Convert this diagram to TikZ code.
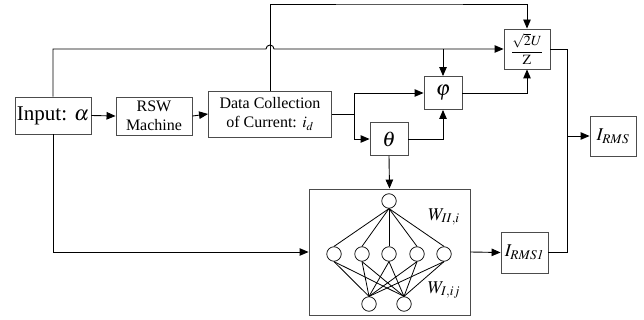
\documentclass[tikz,border=0pt]{standalone}
\usepackage{mathptmx}
\usepackage{fontspec}
\setmainfont{Liberation Serif}
\usepackage{tikz}
\usetikzlibrary{arrows.meta}

\begin{document}
\begin{tikzpicture}[
  x=1pt, y=-1pt,
  >={Triangle[length=9pt,width=7.5pt]},
  box/.style={draw=black!70, line width=0.9pt, inner sep=1pt, align=center},
  wire/.style={->, line width=0.9pt, color=black},
  link/.style={line width=0.8pt, color=black},
  neuron/.style={draw, line width=0.7pt, circle, minimum size=14.5pt, inner sep=0pt}
]
  \useasboundingbox (0,0) rectangle (644,320);

  % Main blocks
  \node[box, minimum width=76pt, minimum height=37pt, font=\fontsize{21}{23}\selectfont] (input) at (53,115.5) {Input: $\alpha$};
  \node[box, minimum width=76pt, minimum height=38pt, font=\fontsize{16}{19}\selectfont] (rsw) at (154,116) {RSW\\Machine};
  \node[box, minimum width=123pt, minimum height=46pt, font=\fontsize{16}{19}\selectfont] (data) at (270,114) {Data Collection\\of Current: $i_d$};
  \node[box, minimum width=46pt, minimum height=40pt, font=\fontsize{14}{16}\selectfont] (sqrtbox) at (527,49) {$\displaystyle\frac{\sqrt{2}U}{\mathrm{Z}}$};
  \node[box, minimum width=38pt, minimum height=33pt, font=\fontsize{21}{23}\selectfont] (phi) at (443,93) {$\varphi$};
  \node[box, minimum width=38pt, minimum height=33pt, font=\fontsize{21}{23}\selectfont] (theta) at (389,139) {$\theta$};
  \node[box, minimum width=161pt, minimum height=126pt] (nnbox) at (389.5,252) {};
  \node[box, minimum width=47pt, minimum height=41pt, font=\fontsize{18}{20}\selectfont] (irmsone) at (524.5,252.5) {$I_{RMS\mathit{1}}$};
  \node[box, minimum width=46pt, minimum height=40pt, font=\fontsize{18}{20}\selectfont] (irms) at (613,136) {$I_{RMS}$};

  % Neural network inside the box
  \node[neuron] (top) at (389,201) {};
  \foreach \i/\x in {1/334,2/362,3/389,4/417,5/444}
    \node[neuron] (h\i) at (\x,254) {};
  \node[neuron] (b1) at (369,304) {};
  \node[neuron] (b2) at (404,304) {};
  \foreach \i in {1,...,5} {
    \draw[link] (top.south) -- (h\i.north);
    \draw[link] (h\i.south) -- (b1.north);
    \draw[link] (h\i.south) -- (b2.north);
  }
  \node[font=\fontsize{18}{20}\selectfont] (wtwo) at (444,217) {$W_{II,i}$};
  \node[font=\fontsize{18}{20}\selectfont] (wone) at (444,290) {$W_{I,ij}$};

  % Helper points
  \coordinate (topline) at (400,4);
  \coordinate (split) at (354,114);
  \coordinate (merge) at (567,136);

  % Forward path
  \draw[wire] (input.east) -- (rsw.west);
  \draw[wire] (rsw.east) -- (data.west);
  \draw[wire] (data.north) |- (topline) -| (sqrtbox.north);
  \draw[wire] (input.north) |- (266,49) arc[start angle=180, end angle=360, radius=4] -- (sqrtbox.west);
  \draw[wire] (phi.north |- sqrtbox.west) -- (phi.north);
  \draw[wire] (data.east) -- (split) |- (phi.west);
  \draw[wire] (split) |- (theta.west);
  \draw[wire] (theta.east) -| (phi.south);
  \draw[wire] (phi.east) -| (sqrtbox.south);
  \draw[wire] (theta.south) -- (nnbox.north);
  \draw[wire] (input.south) |- (nnbox.west);
  \draw[wire] (nnbox.east) -- (irmsone.west);

  % Outputs
  \draw[link] (sqrtbox.east) -| (merge);
  \draw[wire] (irmsone.east) -| (merge) -- (irms.west);
\end{tikzpicture}
\end{document}
